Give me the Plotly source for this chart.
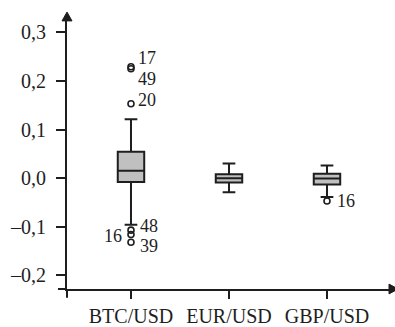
import plotly.graph_objects as go

# Currency pairs and five-number summaries of daily returns
pairs = ["BTC/USD", "EUR/USD", "GBP/USD"]
q1 = [-0.008, -0.009, -0.013]
median = [0.015, 0.000, -0.001]
q3 = [0.054, 0.008, 0.009]
lower_whisker = [-0.096, -0.029, -0.039]
upper_whisker = [0.121, 0.030, 0.026]

# Outlying observations: pair index, value, observation number
outlier_pair = [0, 0, 0, 0, 0, 0, 2]
outlier_value = [0.229, 0.225, 0.153, -0.107, -0.116, -0.132, -0.047]
outlier_id = ["17", "49", "20", "48", "16", "39", "16"]
# label placement per outlier (horizontal and vertical shift in px)
label_dx = [5, 5, 5, 7, -7, 7, 8]
label_dy = [9, -10, 4, 4, -1, -4, 0]

y_ticks = [-0.2, -0.1, 0.0, 0.1, 0.2, 0.3]
y_tick_text = ["\u20130,2", "\u20130,1", "0,0", "0,1", "0,2", "0,3"]

W, H = 395, 327
ML, MR, MT, MB = 67, 0, 16, 32
INK = "#1e1e1e"
FONT = "Liberation Serif"

fig = go.Figure()

for i, name in enumerate(pairs):
    fig.add_trace(go.Box(
        x=[i], q1=[q1[i]], median=[median[i]], q3=[q3[i]],
        lowerfence=[lower_whisker[i]], upperfence=[upper_whisker[i]],
        name=name, boxpoints=False, width=0.27, whiskerwidth=0.48,
        fillcolor="#c0c0c0", line=dict(color=INK, width=2),
        hoverinfo="skip", showlegend=False,
    ))

fig.add_trace(go.Scatter(
    x=outlier_pair, y=outlier_value, mode="markers",
    marker=dict(symbol="circle-open", size=6, color=INK, line=dict(width=1.6, color=INK)),
    hoverinfo="skip", showlegend=False,
))

for p, v, t, dx, dy in zip(outlier_pair, outlier_value, outlier_id, label_dx, label_dy):
    fig.add_annotation(
        x=p, y=v, xref="x", yref="y", text=t, showarrow=False,
        xanchor="left" if dx > 0 else "right",
        xshift=dx, yshift=dy,
        font=dict(family=FONT, size=18, color=INK),
    )

pw, ph = W - ML - MR, H - MT - MB
# crossing extensions of the axes and arrowheads
fig.add_shape(type="line", xref="paper", yref="paper", x0=0, x1=0, y0=0, y1=-9 / ph,
              line=dict(color=INK, width=2))
fig.add_shape(type="line", xref="paper", yref="paper", x0=-9 / pw, x1=0, y0=0, y1=0,
              line=dict(color=INK, width=2))
fig.add_shape(type="path", xref="paper", yref="paper",
              path=f"M {-5/pw} {1-5/ph} L {5/pw} {1-5/ph} L 0 {1+4/ph} Z",
              fillcolor=INK, line=dict(color=INK, width=1))
fig.add_shape(type="path", xref="paper", yref="paper",
              path=f"M {1-6/pw} {5/ph} L {1-6/pw} {-5/ph} L {1+3/pw} 0 Z",
              fillcolor=INK, line=dict(color=INK, width=1))

fig.update_layout(
    width=W, height=H,
    margin=dict(l=ML, r=MR, t=MT, b=MB),
    paper_bgcolor="white", plot_bgcolor="white",
    font=dict(family=FONT, size=20, color=INK),
    xaxis=dict(
        range=[-0.653, 2.694], tickvals=list(range(len(pairs))), ticktext=pairs,
        showline=True, linecolor=INK, linewidth=2, ticks="outside", ticklen=8,
        tickwidth=2, tickcolor=INK, showgrid=False, zeroline=False,
        tickfont=dict(family=FONT, size=20, color=INK),
    ),
    yaxis=dict(
        range=[-0.228, 0.3334], tickvals=y_ticks, ticktext=y_tick_text,
        showline=True, linecolor=INK, linewidth=2, ticks="outside", ticklen=9,
        tickwidth=2, tickcolor=INK, showgrid=False, zeroline=False,
        ticklabelstandoff=6,
        tickfont=dict(family=FONT, size=20, color=INK),
    ),
)

fig.write_html("out.html")
